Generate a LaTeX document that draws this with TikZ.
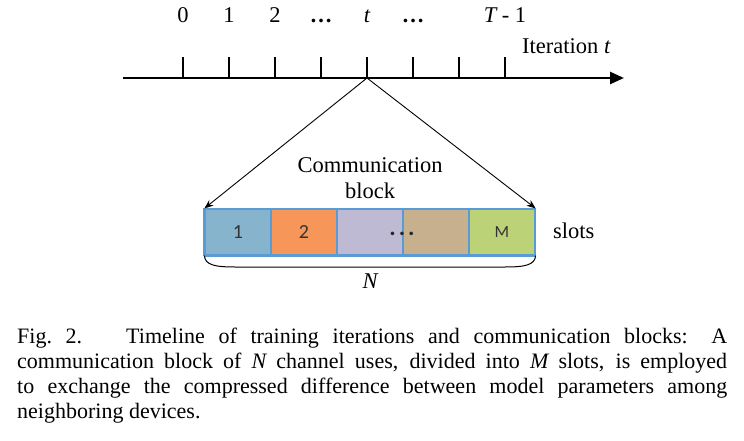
\documentclass[tikz,border=0pt]{standalone}
\usepackage{fontspec}
\setmainfont{Liberation Serif}
\newfontfamily\cellfont{Carlito}
\usetikzlibrary{arrows.meta}
\definecolor{cA}{HTML}{86B4CC}
\definecolor{cB}{HTML}{F79659}
\definecolor{cC}{HTML}{BEBAD3}
\definecolor{cD}{HTML}{C6B08E}
\definecolor{cE}{HTML}{BCD277}
\definecolor{bd}{HTML}{5B9BD5}
\tikzset{
  lab/.style={anchor=base, inner sep=0pt, font=\fontsize{22.5}{26}\selectfont},
  cell/.style={draw=bd, line width=1.2pt, minimum width=66pt, minimum height=46pt, inner sep=0pt, font=\cellfont\fontsize{20}{22}\selectfont, text=black!80},
  tick/.style={line width=2pt},
  axis/.style={line width=2.6pt, -{Triangle[length=14pt,width=12pt]}},
  arr/.style={line width=0.9pt, -{Stealth[length=9pt,width=7pt]}},
  brace/.style={line width=1pt}
}
\begin{document}
\begin{tikzpicture}[x=1pt,y=-1pt]
\useasboundingbox (0,0) rectangle (744,441);
\fill[white] (0,0) rectangle (744,441);
% timeline
\coordinate (tlstart) at (123,78);
\coordinate (tlend) at (624,78);
\draw[axis] (tlstart) -- (tlend);
\foreach \i in {0,...,7}{
  \coordinate (tk\i) at ({183+46*\i},78);
  \draw[tick] (tk\i) -- ++(0,-21);
}
\node[lab] (l0) at (183,23) {0};
\node[lab] (l1) at (229,23) {1};
\node[lab] (l2) at (275,23) {2};
\node[lab] (l3) at (321,23) {\textbf{\dots}};
\node[lab] (l4) at (367,23) {\itshape t};
\node[lab] (l5) at (413,23) {\textbf{\dots}};
\node[lab] (l7) at (505,23) {{\itshape T} - 1};
\node[lab, anchor=base west] (iter) at (522,54) {Iteration {\itshape t}};
% block
\node[cell, fill=cA] (c1) at (238,232) {1};
\node[cell, fill=cB] (c2) at (304,232) {2};
\node[cell, fill=cC] (c3) at (370,232) {};
\node[cell, fill=cD] (c4) at (436,232) {};
\node[cell, fill=cE, font=\cellfont\fontsize{17}{19}\selectfont] (c5) at (502,232) {M};
\node[inner sep=0pt, font=\cellfont\bfseries\fontsize{24}{26}\selectfont, text=black!85] (dots) at (402,234) {.\kern3pt.\kern3pt.};
\draw[bd, line width=2.6pt] (c1.south west) -- (c5.south east);
\draw[bd, line width=2.2pt] (c1.south west) -- (c1.north west);
\node[lab, anchor=base west] (slots) at (553,238) {slots};
% arrows
\draw[arr] (tk4) -- (c1.north west);
\draw[arr] (tk4) -- (c5.north east);
\node[lab] (comm1) at (370,172) {Communication};
\node[lab] (comm2) at (370,198) {block};
% brace
\coordinate (bl) at (235,267);
\coordinate (br) at (505,267);
\draw[brace] (c1.south west) .. controls (205,265) and (215,267) .. (bl) -- (br) .. controls (525,267) and (535,265) .. (c5.south east);
\node[lab] (N) at (370,288) {\itshape N};
% caption
\node[anchor=base west, inner sep=0pt] (cap) at (17,343) {\parbox[t]{710pt}{\fontsize{22}{25}\selectfont
Fig.~2.\hspace{2em}Timeline of training iterations and communication blocks: A\linebreak
communication block of {\itshape N} channel uses, divided into {\itshape M} slots, is employed\linebreak
to exchange the compressed difference between model parameters among\linebreak
neighboring devices.}};
\end{tikzpicture}
\end{document}
